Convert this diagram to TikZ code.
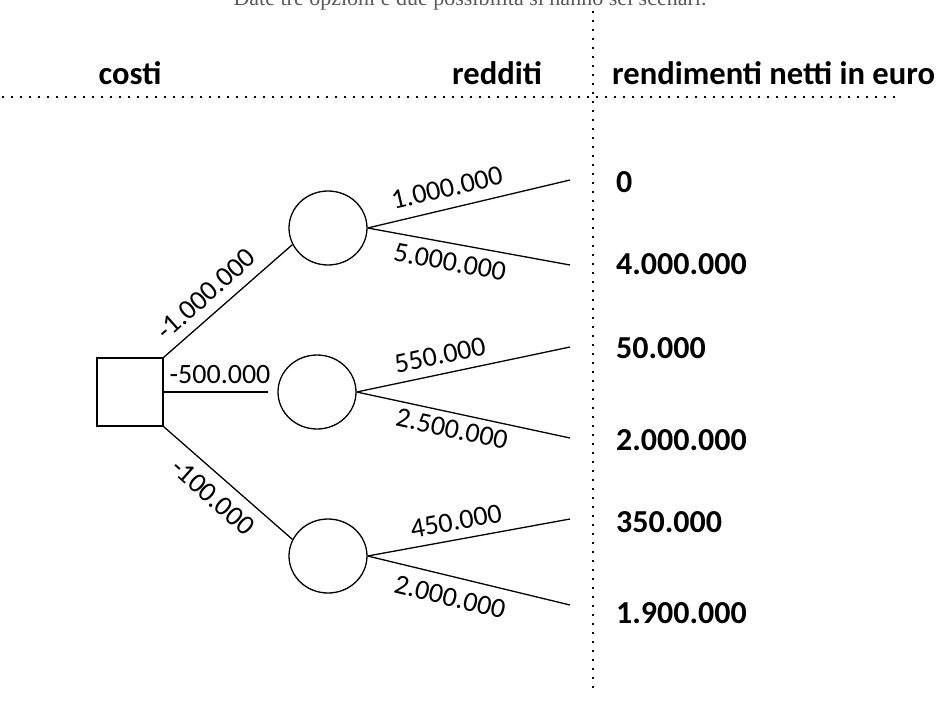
\documentclass[tikz,border=0pt]{standalone}
\usepackage{fontspec}
\setmainfont{Liberation Serif}
\newfontfamily\calb{Carlito}[BoldFont=* Bold]
\usetikzlibrary{shapes.geometric}
\begin{document}
\begin{tikzpicture}[x=1pt,y=-1pt,
  conn/.style={line width=1.3pt},
  dotline/.style={line width=1.6pt, dash pattern=on 2.2pt off 6.8pt},
  hdr/.style={font=\calb\bfseries\fontsize{32.6}{36}\selectfont, anchor=base, inner sep=0pt},
  val/.style={font=\calb\bfseries\fontsize{32}{36}\selectfont, anchor=west, inner sep=0pt},
  lbl/.style={font=\calb\fontsize{28}{32}\selectfont, inner sep=0pt},
  chance/.style={draw, ellipse, line width=1.3pt, minimum width=78pt, minimum height=74pt, inner sep=0pt},
  decision/.style={draw, rectangle, line width=1.3pt, minimum width=66pt, minimum height=68pt, inner sep=0pt}]
\useasboundingbox (0,0) rectangle (936,701);
\clip (0,0) rectangle (936,701);
% title (cut at top)
\node[font=\fontsize{22}{24}\selectfont, text=black!65, anchor=base, inner sep=0pt] (title) at (470,6) {Date tre opzioni e due possibilità si hanno sei scenari.};
% headers
\node[hdr] (hcosti) at (130,84) {costi};
\node[hdr] (hredditi) at (497,84) {redditi};
\node[hdr, anchor=base west] (hrend) at (612,84) {rendimenti netti in euro};
% dotted separators
\coordinate (hl) at (2,97);
\coordinate (hr) at (897,97);
\coordinate (vt) at (593,11);
\coordinate (vb) at (593,692);
\draw[dotline] (hl) -- (hr);
\draw[dotline] (vt) -- (vb);
% nodes
\node[decision] (sq) at (130,392) {};
\node[chance] (c1) at (328,228) {};
\node[chance] (c2) at (317,392) {};
\node[chance] (c3) at (328,556) {};
% free ends
\coordinate (e1a) at (570,180);
\coordinate (e1b) at (570,265);
\coordinate (e2a) at (570,347);
\coordinate (e2b) at (570,438);
\coordinate (e3a) at (570,519);
\coordinate (e3b) at (570,605);
% connectors
\draw[conn] (sq.north east) -- (c1.205);
\draw[conn] (sq.east) -- ([xshift=-9pt]c2.west);
\draw[conn] (sq.south east) -- (c3.155);
\draw[conn] (c1.east) -- (e1a);
\draw[conn] (c1.east) -- (e1b);
\draw[conn] (c2.east) -- (e2a);
\draw[conn] (c2.east) -- (e2b);
\draw[conn] (c3.east) -- (e3a);
\draw[conn] (c3.east) -- (e3b);
% connector labels
\node[lbl, rotate=41.6] (l1) at (206,294) {-1.000.000};
\node[lbl] (l2) at (220,375) {-500.000};
\node[lbl, rotate=-41.6] (l3) at (213,497) {-100.000};
\node[lbl, rotate=13.4] (l1a) at (447,188) {1.000.000};
\node[lbl, rotate=-10.4] (l1b) at (450,262) {5.000.000};
\node[lbl, rotate=11.9] (l2a) at (440,355) {550.000};
\node[lbl, rotate=-12.2] (l2b) at (452,429) {2.500.000};
\node[lbl, rotate=10.4] (l3a) at (456,521) {450.000};
\node[lbl, rotate=-13.7] (l3b) at (450,597) {2.000.000};
% outcomes
\node[val] (v1) at (616,182) {0};
\node[val] (v2) at (616,264) {4.000.000};
\node[val] (v3) at (616,348) {50.000};
\node[val] (v4) at (616,440) {2.000.000};
\node[val] (v5) at (616,522) {350.000};
\node[val] (v6) at (616,613) {1.900.000};
\end{tikzpicture}
\end{document}
